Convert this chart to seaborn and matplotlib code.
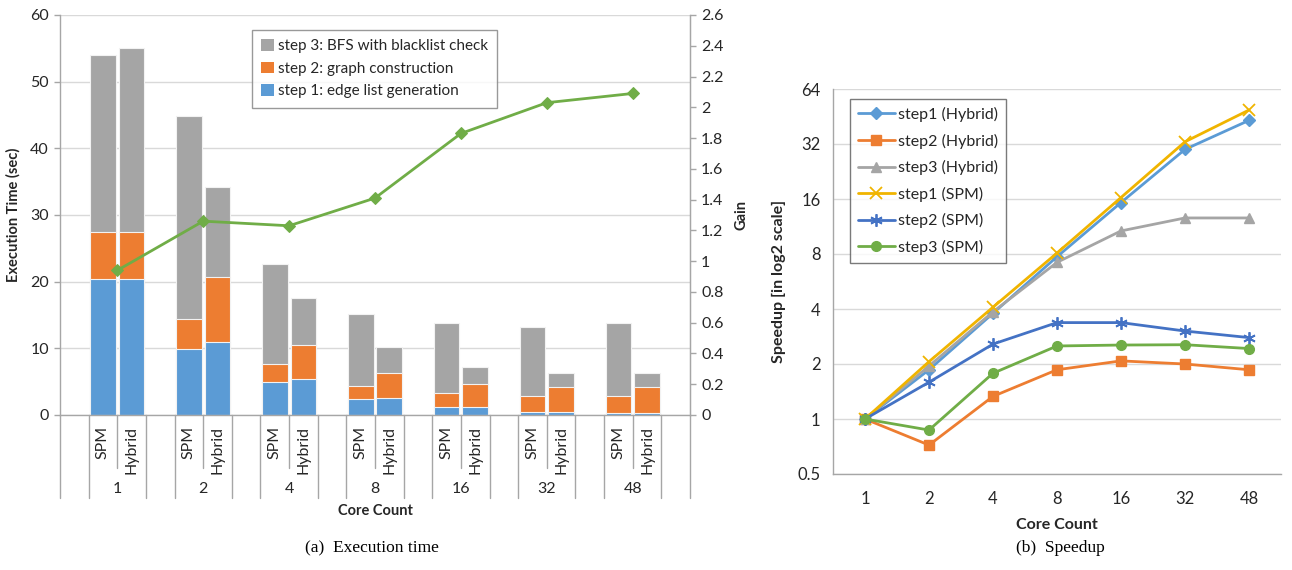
import numpy as np
import pandas as pd
import matplotlib
matplotlib.use("Agg")
import matplotlib.pyplot as plt
import matplotlib.transforms as mtransforms
from matplotlib.patches import Patch
from matplotlib.ticker import FixedLocator, FuncFormatter, NullFormatter
import seaborn as sns

# ---------------------------------------------------------------- data
core_counts = ["1", "2", "4", "8", "16", "32", "48"]
variants = ["SPM", "Hybrid"]

# execution time per step (sec)
spm_step1 = [20.35, 9.9, 4.9, 2.35, 1.15, 0.5, 0.25]
spm_step2 = [7.15, 4.45, 2.75, 2.05, 2.1, 2.3, 2.55]
spm_step3 = [26.5, 30.55, 14.95, 10.7, 10.5, 10.45, 10.95]
hyb_step1 = [20.35, 11.0, 5.35, 2.6, 1.2, 0.5, 0.35]
hyb_step2 = [7.15, 9.75, 5.2, 3.75, 3.4, 3.65, 3.8]
hyb_step3 = [27.5, 13.5, 7.05, 3.9, 2.6, 2.15, 2.15]

# gain of Hybrid over SPM
gain = [0.94, 1.26, 1.23, 1.41, 1.83, 2.03, 2.09]

# speedup relative to one core
sp_step1_hybrid = [1.0, 1.86, 3.79, 7.73, 15.3, 29.9, 43.1]
sp_step2_hybrid = [1.0, 0.72, 1.33, 1.86, 2.08, 2.0, 1.86]
sp_step3_hybrid = [1.0, 1.95, 3.86, 7.2, 10.7, 12.6, 12.6]
sp_step1_spm = [1.0, 2.06, 4.09, 8.1, 16.3, 32.9, 49.1]
sp_step2_spm = [1.0, 1.59, 2.57, 3.37, 3.37, 3.03, 2.79]
sp_step3_spm = [1.0, 0.87, 1.78, 2.51, 2.54, 2.55, 2.43]

step_labels = ["step 3: BFS with blacklist check",
               "step 2: graph construction",
               "step 1: edge list generation"]
speedup_labels = ["step1 (Hybrid)", "step2 (Hybrid)", "step3 (Hybrid)",
                  "step1 (SPM)", "step2 (SPM)", "step3 (SPM)"]

# ---------------------------------------------------------------- style
C_BLUE, C_ORANGE, C_GRAY, C_GREEN = "#5B9BD5", "#ED7D31", "#A5A5A5", "#70AD47"
C_GOLD, C_DBLUE = "#F0B400", "#4472C4"
GRID = "#D9D9D9"
AXC = "#A6A6A6"
TXT = "#262626"
FS = 11.5

sns.set_style("white")
plt.rcParams["font.family"] = ["Lato", "DejaVu Sans"]
plt.rcParams["font.size"] = FS
plt.rcParams["text.color"] = TXT
plt.rcParams["axes.labelcolor"] = TXT
plt.rcParams["xtick.color"] = AXC
plt.rcParams["ytick.color"] = AXC
plt.rcParams["xtick.labelcolor"] = TXT
plt.rcParams["ytick.labelcolor"] = TXT
plt.rcParams["xtick.labelsize"] = FS
plt.rcParams["ytick.labelsize"] = FS

W, H = 1292, 570
fig = plt.figure(figsize=(W / 100, H / 100), dpi=100)


def px_axes(x0, y0, x1, y1):
    return fig.add_axes([x0 / W, (H - y1) / H, (x1 - x0) / W, (y1 - y0) / H])


# ================================================================ (a)
ax1 = px_axes(60, 15, 690, 415)
n = len(core_counts)
rows = []
for g in range(n):
    for v, (s1, s2, s3) in enumerate([(spm_step1, spm_step2, spm_step3),
                                      (hyb_step1, hyb_step2, hyb_step3)]):
        rows.append(dict(core=core_counts[g], variant=variants[v],
                         pos=3 * g + 1.5 + v,
                         s1=s1[g], s12=s1[g] + s2[g],
                         total=s1[g] + s2[g] + s3[g]))
bars = pd.DataFrame(rows)

# stacked bars: draw cumulative heights from the top layer down
for col, colr in [("total", C_GRAY), ("s12", C_ORANGE), ("s1", C_BLUE)]:
    sns.barplot(data=bars, x="pos", y=col, native_scale=True, orient="x",
                width=0.9, color=colr, saturation=1, errorbar=None,
                edgecolor="#F2F2F2", linewidth=0.8, ax=ax1, zorder=2)

ax1.set_xlim(0, 3 * n + 1)
ax1.set_ylim(0, 60)
ax1.yaxis.set_major_locator(FixedLocator(np.arange(0, 61, 10)))
ax1.grid(axis="y", color=GRID, linewidth=1, zorder=0)
ax1.set_axisbelow(True)
ax1.set_xticks([])
ax1.set_xlabel("")
ax1.set_ylabel("Execution Time (sec)", fontsize=10.5, fontweight="bold", labelpad=7)
ax1.tick_params(axis="y", length=4, width=1, pad=4, direction="out")
ax1.spines["top"].set_visible(False)
for side in ["left", "bottom", "right"]:
    ax1.spines[side].set_color(AXC)
    ax1.spines[side].set_linewidth(1)

# category labels under the bars
tr = mtransforms.blended_transform_factory(ax1.transData, ax1.transAxes)
for g in range(n):
    for v in range(2):
        ax1.text(3 * g + 1.5 + v, -0.028, variants[v], rotation=90,
                 ha="center", va="top", transform=tr, fontsize=FS)
    ax1.text(3 * g + 2, -0.185, core_counts[g], ha="center", va="center",
             transform=tr, fontsize=FS)
for k in range(3 * n + 2):
    y_end = -0.1325 if k % 3 == 2 else -0.2075
    ax1.plot([k, k], [0, y_end], color=AXC, linewidth=1, transform=tr,
             clip_on=False)
ax1.text(0.5, -0.24, "Core Count", transform=ax1.transAxes, ha="center",
         va="center", fontsize=10.5, fontweight="bold")

# gain on the secondary axis
ax1b = ax1.twinx()
gain_df = pd.DataFrame({"pos": [3 * g + 2 for g in range(n)], "gain": gain})
sns.lineplot(data=gain_df, x="pos", y="gain", ax=ax1b, color=C_GREEN,
             linewidth=2, marker="D", markersize=6, markeredgecolor=C_GREEN)
ax1b.set_ylim(0, 2.6)
ax1b.set_xlim(0, 3 * n + 1)
ax1b.yaxis.set_major_locator(FixedLocator(np.round(np.arange(0, 2.61, 0.2), 1)))
ax1b.yaxis.set_major_formatter(FuncFormatter(lambda v, p: f"{v:g}"))
ax1b.set_ylabel("Gain", fontsize=10.5, fontweight="bold", rotation=90, labelpad=8)
ax1b.tick_params(axis="y", length=4, width=1, pad=4, direction="out")
for side in ["top", "left", "bottom"]:
    ax1b.spines[side].set_visible(False)
ax1b.spines["right"].set_color(AXC)
ax1b.set_xlabel("")

handles = [Patch(facecolor=c, edgecolor="none") for c in (C_GRAY, C_ORANGE, C_BLUE)]
leg1 = ax1b.legend(handles, step_labels, loc="upper left",
                   bbox_to_anchor=(0.305, 0.9625), frameon=True, fancybox=False,
                   edgecolor="#808080", fontsize=11, handlelength=0.8,
                   handleheight=0.8, handletextpad=0.3, labelspacing=0.55,
                   borderpad=0.6, borderaxespad=0)
leg1.get_frame().set_linewidth(1)

fig.text(372 / W, 1 - 548 / H, "(a)  Execution time", ha="center", va="center",
         family="Liberation Serif", fontsize=12.5, color="black")

# ================================================================ (b)
ax2 = px_axes(833, 89, 1281, 474)
series = [
    (sp_step1_hybrid, C_BLUE, "D", 6),
    (sp_step2_hybrid, C_ORANGE, "s", 7),
    (sp_step3_hybrid, C_GRAY, "^", 7.5),
    (sp_step1_spm, C_GOLD, "x", 8),
    (sp_step2_spm, C_DBLUE, (6, 2, 0), 9),
    (sp_step3_spm, C_GREEN, "o", 7),
]
xpos = np.arange(n)
for (vals, col, mk, ms), lab in zip(series, speedup_labels):
    sdf = pd.DataFrame({"x": xpos, "speedup": vals})
    sns.lineplot(data=sdf, x="x", y="speedup", ax=ax2, color=col, linewidth=2,
                 marker=mk, markersize=ms, markeredgecolor=col,
                 markeredgewidth=1.3 if (mk == "x" or isinstance(mk, tuple)) else 1,
                 label=lab)

ax2.set_yscale("log", base=2)
ax2.set_ylim(0.5, 64)
yt = [0.5, 1, 2, 4, 8, 16, 32, 64]
ax2.yaxis.set_major_locator(FixedLocator(yt))
ax2.yaxis.set_major_formatter(FuncFormatter(lambda v, p: f"{v:g}"))
ax2.yaxis.set_minor_locator(FixedLocator([]))
ax2.yaxis.set_minor_formatter(NullFormatter())
ax2.grid(axis="y", which="major", color=GRID, linewidth=1)
ax2.set_axisbelow(True)
ax2.set_xlim(-0.5, n - 0.5)
ax2.set_xticks(xpos)
ax2.set_xticklabels(core_counts)
ax2.xaxis.set_minor_locator(FixedLocator(np.arange(-0.5, n, 1.0)))
ax2.tick_params(axis="x", which="major", length=0, pad=12, labelsize=12)
ax2.tick_params(axis="x", which="minor", length=5, width=1, direction="out")
ax2.tick_params(axis="y", length=5, width=1, pad=4, direction="out", labelsize=12)
ax2.set_xlabel("Core Count", fontsize=11.5, fontweight="bold", labelpad=8)
ax2.set_ylabel("Speedup [in log2 scale]", fontsize=11.5, fontweight="bold", labelpad=8)
for side in ["top", "right"]:
    ax2.spines[side].set_visible(False)
for side in ["left", "bottom"]:
    ax2.spines[side].set_color(AXC)
    ax2.spines[side].set_linewidth(1)

leg2 = ax2.legend(loc="upper left", bbox_to_anchor=(0.038, 0.974), frameon=True,
                  fancybox=False, edgecolor="#595959", fontsize=11.5,
                  handlelength=2.3, handletextpad=0.2, labelspacing=0.72,
                  borderpad=0.5, borderaxespad=0)
leg2.get_frame().set_linewidth(1)

fig.text(1060 / W, 1 - 548 / H, "(b)  Speedup", ha="center", va="center",
         family="Liberation Serif", fontsize=12.5, color="black")

fig.savefig("out.png", dpi=100)
